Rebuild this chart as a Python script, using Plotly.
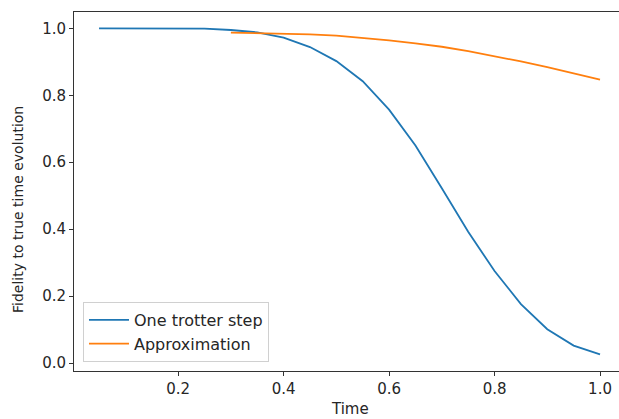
import plotly.graph_objects as go

# Time grid and fidelities for a single Trotter step
time_trotter = [0.05, 0.10, 0.15, 0.20, 0.25, 0.30, 0.35, 0.40, 0.45, 0.50,
                0.55, 0.60, 0.65, 0.70, 0.75, 0.80, 0.85, 0.90, 0.95, 1.00]
fid_trotter = [1.000, 1.000, 1.000, 0.9995, 0.999, 0.995, 0.988, 0.972, 0.944, 0.902,
               0.842, 0.757, 0.650, 0.522, 0.392, 0.275, 0.176, 0.101, 0.052, 0.026]

# Analytical approximation, valid from t = 0.3
time_approx = [0.30, 0.35, 0.40, 0.45, 0.50, 0.55, 0.60, 0.65, 0.70, 0.75,
               0.80, 0.85, 0.90, 0.95, 1.00]
fid_approx = [0.987, 0.986, 0.984, 0.982, 0.978, 0.972, 0.964, 0.955, 0.945, 0.932,
              0.917, 0.901, 0.884, 0.866, 0.847]

x_ticks = [0.2, 0.4, 0.6, 0.8, 1.0]
y_ticks = [0.0, 0.2, 0.4, 0.6, 0.8, 1.0]

FONT = "DejaVu Sans"
FS = 15
TXT = "#262626"

fig = go.Figure()
fig.add_trace(go.Scatter(x=time_trotter, y=fid_trotter, mode="lines",
                         name="One trotter step", legendgroup="a",
                         line=dict(color="#1f77b4", width=1.8)))
fig.add_trace(go.Scatter(x=time_approx, y=fid_approx, mode="lines",
                         name="Approximation", legendgroup="b",
                         line=dict(color="#ff7f0e", width=1.8)))

axis_common = dict(
    showgrid=False, zeroline=False, showline=True, linecolor="#333",
    linewidth=1, ticks="outside", ticklen=4, tickwidth=1, tickcolor="#333",
    tickfont=dict(family=FONT, size=FS, color=TXT),
)

fig.update_layout(
    width=619, height=419,
    margin=dict(l=74, r=0, t=12, b=48),
    paper_bgcolor="white", plot_bgcolor="white",
    font=dict(family=FONT, size=FS, color=TXT),
    xaxis=dict(range=[0.0025, 1.036], tickvals=x_ticks,
               ticktext=[f"{v:.1f}" for v in x_ticks], mirror=True, **axis_common),
    yaxis=dict(range=[-0.0238, 1.0488], tickvals=y_ticks,
               ticktext=[f"{v:.1f}" for v in y_ticks], mirror=False, **axis_common),
    legend=dict(x=0.0165, y=0.025, xanchor="left", yanchor="bottom",
                bgcolor="white", bordercolor="#d0d0d0", borderwidth=1,
                font=dict(family=FONT, size=16, color=TXT),
                traceorder="grouped", tracegroupgap=0, itemwidth=40),
    showlegend=True,
    annotations=[
        dict(text="Time", xref="paper", yref="paper", x=(350 - 74) / 545, y=-38 / 359,
             xanchor="center", yanchor="middle", showarrow=False,
             font=dict(family=FONT, size=FS, color=TXT)),
        dict(text="Fidelity to true time evolution", xref="paper", yref="paper",
             x=-56 / 545, y=(371 - 210) / 359, xanchor="center", yanchor="middle",
             textangle=-90, showarrow=False,
             font=dict(family=FONT, size=14, color=TXT)),
    ],
)

fig.write_html("out.html")
